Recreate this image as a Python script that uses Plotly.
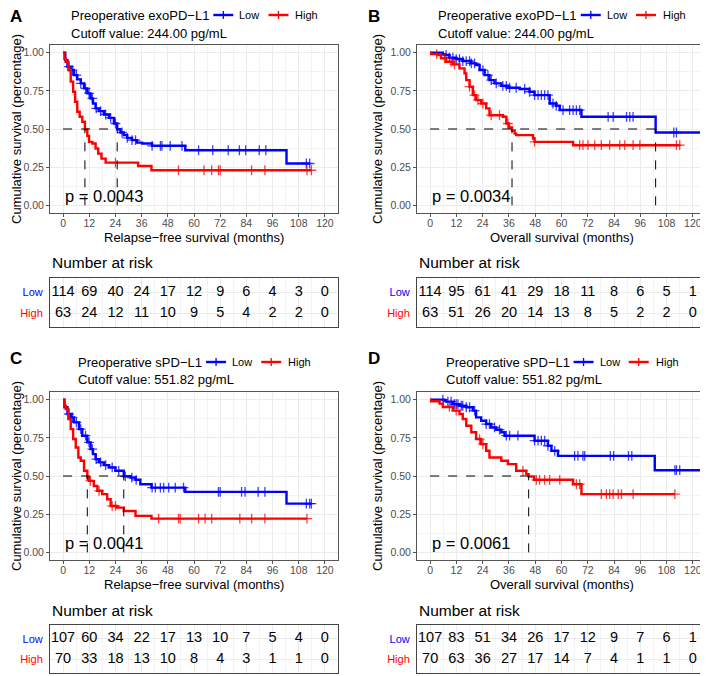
"""Kaplan-Meier curves with number-at-risk tables (exoPD-L1 / sPD-L1)"""
import numpy as np
import plotly.graph_objects as go

# ---- data ---------------------------------------------------------------
# step curves: event time (months) and survival just after each event
a_low_t = [1.0, 2.0, 3.5, 5.0, 6.5, 8.1, 9.6, 11.1, 12.6, 13.7, 14.9, 16.4, 18.7,
           21.0, 23.3, 24.8, 26.3, 27.8, 29.4, 31.6, 33.9, 36.2, 40.8, 56.0, 102.4]
a_low_s = [0.95, 0.908, 0.886, 0.853, 0.825, 0.799, 0.766, 0.733, 0.70, 0.667, 0.635,
           0.617, 0.595, 0.573, 0.536, 0.498, 0.477, 0.46, 0.442, 0.427, 0.411, 0.405,
           0.39, 0.361, 0.274]
a_low_cens = [2.7, 4.3, 6.1, 8.1, 10.3, 11.9, 13.4, 15.2, 17.2, 19.5, 21.8, 24.0, 27.0,
              29.4, 31.6, 33.2, 40.8, 44.6, 45.3, 49.1, 54.5, 62.1, 68.6, 75.7, 80.8,
              83.7, 89.9, 92.9, 111.5, 113.0]
a_high_t = [0.6, 1.2, 2.4, 3.5, 4.6, 5.5, 6.5, 7.6, 8.8, 10.0, 11.1, 11.9, 13.4, 14.9,
            16.1, 17.6, 19.5, 34.4, 40.5]
a_high_s = [0.96, 0.94, 0.886, 0.81, 0.744, 0.678, 0.613, 0.58, 0.547, 0.497, 0.455,
            0.416, 0.405, 0.372, 0.339, 0.306, 0.28, 0.258, 0.23]
a_high_cens = [24.0, 52.9, 64.6, 68.1, 71.2, 72.0, 86.4, 92.5, 111.8, 113.8]

b_low_t = [5.8, 6.6, 8.8, 11.9, 14.9, 18.8, 21.0, 22.6, 24.9, 27.1, 29.4, 32.5, 35.5,
           40.9, 45.4, 47.7, 54.6, 57.6, 59.2, 69.1, 103.0]
b_low_s = [0.99, 0.985, 0.967, 0.958, 0.945, 0.93, 0.919, 0.886, 0.853, 0.82, 0.799,
           0.783, 0.77, 0.762, 0.744, 0.722, 0.667, 0.652, 0.624, 0.58, 0.477]
b_low_cens = [7.3, 8.8, 10.4, 11.9, 13.4, 14.9, 16.5, 18.0, 18.8, 20.3, 24.1, 26.4, 27.9,
              30.2, 33.2, 34.8, 36.3, 39.3, 43.2, 45.4, 47.7, 49.3, 50.8, 52.3, 53.8,
              56.1, 57.6, 60.7, 63.7, 65.3, 66.8, 68.3, 81.3, 83.6, 89.7, 91.2, 92.7,
              111.3, 112.5, 128.0]
b_high_t = [0.5, 3.5, 5.0, 7.3, 10.4, 13.4, 15.7, 16.5, 18.0, 19.5, 21.0, 23.3, 25.6,
            27.1, 33.2, 34.8, 36.0, 37.4, 38.6, 39.3, 47.0, 47.7, 65.3]
b_high_s = [0.99, 0.985, 0.963, 0.94, 0.923, 0.897, 0.864, 0.82, 0.777, 0.722, 0.689,
            0.667, 0.635, 0.59, 0.58, 0.536, 0.51, 0.49, 0.47, 0.46, 0.438, 0.416, 0.394]
b_high_cens = [3.0, 6.6, 9.6, 11.1, 18.0, 20.3, 21.8, 24.1, 27.9, 31.7, 35.5, 47.7, 68.3,
               69.8, 72.1, 75.2, 78.2, 82.0, 86.6, 88.9, 92.7, 95.8, 112.5, 114.0]

c_low_t = [0.6, 2.0, 3.5, 5.0, 7.3, 8.8, 11.1, 12.6, 13.7, 14.9, 16.4, 18.7, 21.0, 24.0,
           27.8, 30.9, 33.2, 35.4, 40.5, 56.0, 102.4]
c_low_s = [0.95, 0.906, 0.884, 0.851, 0.807, 0.764, 0.72, 0.676, 0.643, 0.61, 0.589,
           0.571, 0.556, 0.534, 0.498, 0.49, 0.475, 0.446, 0.424, 0.396, 0.319]
c_low_cens = [2.7, 4.3, 6.1, 8.1, 10.3, 11.9, 13.4, 15.2, 17.2, 19.5, 22.5, 25.5, 28.5,
              31.5, 33.5, 40.8, 42.3, 44.6, 46.1, 48.4, 51.4, 55.2, 71.2, 72.0, 81.8,
              83.4, 89.4, 92.5, 111.5, 113.0, 113.8]
c_high_t = [0.6, 1.2, 2.4, 3.5, 4.6, 5.8, 7.0, 8.1, 9.6, 11.1, 11.9, 14.1, 15.7, 17.9,
            20.2, 21.8, 24.8, 27.8, 33.2, 40.5]
c_high_s = [0.96, 0.939, 0.873, 0.807, 0.742, 0.687, 0.621, 0.6, 0.534, 0.49, 0.468,
            0.435, 0.403, 0.381, 0.348, 0.304, 0.293, 0.271, 0.239, 0.221]
c_high_cens = [12.5, 16.5, 22.5, 24.0, 43.8, 52.9, 53.7, 62.1, 65.1, 68.1, 81.0, 86.4,
               92.5, 111.8]

d_low_t = [6.6, 7.3, 10.4, 13.4, 16.5, 19.5, 21.0, 23.3, 25.6, 27.9, 30.2, 32.5, 34.0,
           47.7, 53.8, 55.4, 58.4, 102.6]
d_low_s = [0.995, 0.987, 0.97, 0.96, 0.95, 0.928, 0.884, 0.862, 0.84, 0.818, 0.803,
           0.786, 0.764, 0.731, 0.698, 0.665, 0.632, 0.538]
d_low_cens = [5.8, 8.1, 9.6, 11.1, 11.9, 12.7, 14.2, 14.9, 16.5, 18.0, 20.3, 25.6, 27.1,
              29.4, 31.7, 34.8, 36.3, 40.1, 47.7, 49.3, 50.8, 52.3, 53.8, 56.9, 66.0,
              67.5, 69.8, 70.6, 82.3, 83.8, 90.6, 92.1, 111.8, 112.5, 114.0, 128.0]
d_high_t = [0.5, 4.3, 5.8, 10.4, 13.4, 14.9, 16.5, 18.8, 21.0, 23.3, 25.6, 27.1, 32.5,
            35.5, 39.3, 43.9, 45.0, 47.5, 65.3, 69.1]
d_high_s = [0.989, 0.974, 0.952, 0.928, 0.906, 0.873, 0.829, 0.786, 0.742, 0.709, 0.665,
            0.621, 0.6, 0.578, 0.534, 0.512, 0.497, 0.475, 0.446, 0.381]
d_high_cens = [8.8, 11.9, 22.6, 24.1, 42.4, 48.5, 50.0, 52.3, 54.6, 59.2, 66.8, 68.3,
               78.2, 80.5, 82.0, 83.6, 85.9, 87.4, 92.7, 111.8]

# number at risk
risk_months = [0, 12, 24, 36, 48, 60, 72, 84, 96, 108, 120]
a_risk_low = [114, 69, 40, 24, 17, 12, 9, 6, 4, 3, 0]
a_risk_high = [63, 24, 12, 11, 10, 9, 5, 4, 2, 2, 0]
b_risk_low = [114, 95, 61, 41, 29, 18, 11, 8, 6, 5, 1]
b_risk_high = [63, 51, 26, 20, 14, 13, 8, 5, 2, 2, 0]
c_risk_low = [107, 60, 34, 22, 17, 13, 10, 7, 5, 4, 0]
c_risk_high = [70, 33, 18, 13, 10, 8, 4, 3, 1, 1, 0]
d_risk_low = [107, 83, 51, 34, 26, 17, 12, 9, 7, 6, 1]
d_risk_high = [70, 63, 36, 27, 17, 14, 7, 4, 1, 1, 0]

groups = ['Low', 'High']
y_ticks = [0, 0.25, 0.5, 0.75, 1.0]

# ---- styling / geometry --------------------------------------------------
W, H = 708, 676          # browser window
OFF = 8                  # default body margin of the html page
FONT = 'Liberation Sans, Arial, sans-serif'
COLORS = {'Low': '#0000FF', 'High': '#FF0000'}
GRID = '#EBEBEB'
GRID_MINOR = '#F3F3F3'
X_RANGE = [-6, 126]
Y_RANGE = [-0.05, 1.05]

COLS = [(50, 338), (417, 706)]          # left/right pixel edges of each column
PLOT_ROWS = [(45, 213), (392, 560)]     # top/bottom pixel edges of plots
TABLE_ROWS = [(278, 327), (625, 673)]   # top/bottom pixel edges of risk tables

# Arial / Liberation Sans advance widths (1/1000 em), used to centre the legend
CHAR_W = {'P': 667, 'r': 333, 'e': 556, 'o': 556, 'p': 556, 'a': 556, 't': 278,
          'i': 222, 'v': 500, ' ': 278, 'x': 500, 'D': 722, '−': 584, 'L': 556,
          '1': 556, 's': 500, 'H': 722, 'g': 556, 'h': 556, 'w': 722}


def text_width(s, size):
    return sum(CHAR_W.get(c, 556) for c in s) * size / 1000


def px_x(p):
    """window pixel -> paper fraction (figure sits OFF px in from the corner)"""
    return (p - OFF) / (W - OFF)


def px_y(p):
    return 1 - (p - OFF) / (H - OFF)


def step_value(times, surv, t):
    """Survival of a KM step function at time t."""
    idx = np.searchsorted(times, t, side='right') - 1
    return 1.0 if idx < 0 else surv[idx]


def median_time(times, surv):
    for t, s in zip(times, surv):
        if s <= 0.5:
            return t
    return None


panels = [
    dict(letter='A', col=0, row=0, marker='exoPD−L1', cutoff='244.00',
         xlabel='Relapse−free survival (months)', pval='p = 0.0043',
         Low=(a_low_t, a_low_s, a_low_cens), High=(a_high_t, a_high_s, a_high_cens),
         risk={'Low': a_risk_low, 'High': a_risk_high}),
    dict(letter='B', col=1, row=0, marker='exoPD−L1', cutoff='244.00',
         xlabel='Overall survival (months)', pval='p = 0.0034',
         Low=(b_low_t, b_low_s, b_low_cens), High=(b_high_t, b_high_s, b_high_cens),
         risk={'Low': b_risk_low, 'High': b_risk_high}),
    dict(letter='C', col=0, row=1, marker='sPD−L1', cutoff='551.82',
         xlabel='Relapse−free survival (months)', pval='p = 0.0041',
         Low=(c_low_t, c_low_s, c_low_cens), High=(c_high_t, c_high_s, c_high_cens),
         risk={'Low': c_risk_low, 'High': c_risk_high}),
    dict(letter='D', col=1, row=1, marker='sPD−L1', cutoff='551.82',
         xlabel='Overall survival (months)', pval='p = 0.0061',
         Low=(d_low_t, d_low_s, d_low_cens), High=(d_high_t, d_high_s, d_high_cens),
         risk={'Low': d_risk_low, 'High': d_risk_high}),
]

fig = go.Figure()
layout = {}
annotations = []
shapes = []

for i, p in enumerate(panels):
    n, m = i + 1, i + 5
    sfx_n = '' if n == 1 else str(n)
    xa, ya = f'x{sfx_n}', f'y{sfx_n}'
    txa, tya = f'x{m}', f'y{m}'
    x0, x1 = COLS[p['col']]
    y0, y1 = PLOT_ROWS[p['row']]
    ty0, ty1 = TABLE_ROWS[p['row']]

    # survival curves + censor marks
    medians = []
    for g in groups:
        times, surv, cens = p[g]
        end = max(max(cens), times[-1])
        fig.add_trace(go.Scatter(
            x=[0] + list(times) + [end], y=[1.0] + list(surv) + [surv[-1]],
            mode='lines', line=dict(color=COLORS[g], width=2.4, shape='hv'),
            xaxis=xa, yaxis=ya, hoverinfo='skip'))
        fig.add_trace(go.Scatter(
            x=cens, y=[step_value(times, surv, t) for t in cens],
            mode='markers', xaxis=xa, yaxis=ya, hoverinfo='skip',
            marker=dict(symbol='cross-thin', size=7, opacity=0.75,
                        line=dict(color=COLORS[g], width=1.3))))
        med = median_time(times, surv)
        if med is not None:
            medians.append(med)

    # median survival reference lines
    if medians:
        fig.add_trace(go.Scatter(
            x=[0, max(medians)], y=[0.5, 0.5], mode='lines',
            line=dict(color='black', width=1, dash='dash'),
            xaxis=xa, yaxis=ya, hoverinfo='skip'))
        for med in medians:
            fig.add_trace(go.Scatter(
                x=[med, med], y=[0, 0.5], mode='lines',
                line=dict(color='black', width=1, dash='dash'),
                xaxis=xa, yaxis=ya, hoverinfo='skip'))

    # risk table numbers
    for g in groups:
        fig.add_trace(go.Scatter(
            x=risk_months, y=[g] * len(risk_months), mode='text',
            text=[str(v) for v in p['risk'][g]],
            textfont=dict(size=14.5, color='black', family=FONT),
            xaxis=txa, yaxis=tya, hoverinfo='skip'))

    axis_common = dict(showline=True, mirror=True, zeroline=False, automargin=False)
    layout[f'xaxis{sfx_n}'] = dict(
        domain=[px_x(x0), px_x(x1)], anchor=ya, range=X_RANGE,
        tickvals=risk_months, showgrid=True, gridcolor=GRID, gridwidth=1,
        minor=dict(dtick=6, tick0=0, showgrid=True, gridcolor=GRID_MINOR, ticks=''),
        linecolor='#555555', linewidth=1, ticklabelstandoff=-3,
        ticks='outside', ticklen=3, tickcolor='#555555',
        tickfont=dict(size=10.5, color='#4D4D4D'), **axis_common)
    layout[f'yaxis{sfx_n}'] = dict(
        domain=[px_y(y1), px_y(y0)], anchor=xa, range=Y_RANGE,
        tickvals=y_ticks, tickformat='.2f', showgrid=True, gridcolor=GRID,
        minor=dict(dtick=0.125, tick0=0, showgrid=True, gridcolor=GRID_MINOR, ticks=''),
        linecolor='#555555', linewidth=1,
        ticks='outside', ticklen=3, tickcolor='#555555',
        tickfont=dict(size=10.5, color='#4D4D4D'), **axis_common)
    layout[f'xaxis{m}'] = dict(
        domain=[px_x(x0), px_x(x1)], anchor=tya, range=X_RANGE,
        tickvals=risk_months, showticklabels=False, ticks='',
        showgrid=True, gridcolor=GRID,
        minor=dict(dtick=6, tick0=0, showgrid=True, gridcolor=GRID_MINOR, ticks=''),
        linecolor='#444444', linewidth=1, **axis_common)
    layout[f'yaxis{m}'] = dict(
        domain=[px_y(ty1), px_y(ty0)], anchor=txa, type='category',
        categoryorder='array', categoryarray=['High', 'Low'], range=[-0.667, 1.667],
        tickvals=groups,
        ticktext=[f'<span style="color:{COLORS[g]}">{g}</span>' for g in groups],
        tickfont=dict(size=11), ticks='', ticklabelstandoff=4,
        showgrid=True, gridcolor=GRID,
        linecolor='#444444', linewidth=1, **axis_common)

    # legend drawn by hand so it can sit centred above the panel
    title = f'Preoperative {p["marker"]}'
    key_len = 20
    widths = [text_width(title, 13), 6, key_len, 4, text_width('Low', 11), 11,
              key_len, 5, text_width('High', 11)]
    lx = (x0 + x1) / 2 - 1.5 - sum(widths) / 2
    ly = y0 - 30
    annotations.append(dict(
        text=title, x=px_x(lx), y=px_y(ly), xref='paper', yref='paper',
        xanchor='left', yanchor='middle', showarrow=False,
        font=dict(size=13, color='black')))
    cx = lx + widths[0] + widths[1]
    for g in groups:
        shapes.append(dict(type='line', xref='paper', yref='paper',
                           x0=px_x(cx), x1=px_x(cx + key_len), y0=px_y(ly), y1=px_y(ly),
                           line=dict(color=COLORS[g], width=2.4)))
        shapes.append(dict(type='line', xref='paper', yref='paper',
                           x0=px_x(cx + key_len / 2), x1=px_x(cx + key_len / 2),
                           y0=px_y(ly - 4), y1=px_y(ly + 4),
                           line=dict(color=COLORS[g], width=1.3)))
        tx = cx + key_len + (4 if g == 'Low' else 5)
        annotations.append(dict(
            text=g, x=px_x(tx), y=px_y(ly), xref='paper', yref='paper',
            xanchor='left', yanchor='middle', showarrow=False,
            font=dict(size=11, color='black')))
        cx = tx + text_width(g, 11) + 11

    plot_mid_x = (x0 + x1) / 2
    letter_y = y0 - 37 if p['row'] == 0 else y0 - 34
    annotations += [
        dict(text=f'<b>{p["letter"]}</b>', x=px_x(OFF if p['col'] == 0 else 366),
             y=px_y(max(letter_y, OFF + 9)), xref='paper', yref='paper',
             xanchor='left', yanchor='middle', showarrow=False,
             font=dict(size=17, color='black')),
        dict(text=f'Cutoff value: {p["cutoff"]} pg/mL', x=px_x(lx),
             y=px_y(y0 - 12), xref='paper', yref='paper', xanchor='left',
             yanchor='middle', showarrow=False, font=dict(size=13, color='black')),
        dict(text='Cumulative survival (percentage)', textangle=-90,
             x=px_x(max(x0 - 40, OFF + 8)), y=px_y((y0 + y1) / 2), xref='paper',
             yref='paper', xanchor='center', yanchor='middle', showarrow=False,
             font=dict(size=13, color='black')),
        dict(text=p['xlabel'], x=px_x(plot_mid_x), y=px_y(y1 + 24), xref='paper',
             yref='paper', xanchor='center', yanchor='middle', showarrow=False,
             font=dict(size=13, color='black')),
        dict(text='Number at risk', x=px_x(x0), y=px_y(ty0 - 15), xref='paper',
             yref='paper', xanchor='left', yanchor='middle', showarrow=False,
             font=dict(size=15.5, color='black')),
        dict(text=p['pval'], x=0, y=0.06, xref=xa, yref=ya, xanchor='left',
             yanchor='middle', showarrow=False, font=dict(size=16.5, color='black')),
    ]

fig.update_layout(
    width=W - OFF, height=H - OFF, margin=dict(l=0, r=0, t=0, b=0, autoexpand=False),
    paper_bgcolor='white', plot_bgcolor='white', showlegend=False,
    font=dict(family=FONT, color='black'),
    annotations=annotations, shapes=shapes, **layout)

fig.write_html("out.html")
